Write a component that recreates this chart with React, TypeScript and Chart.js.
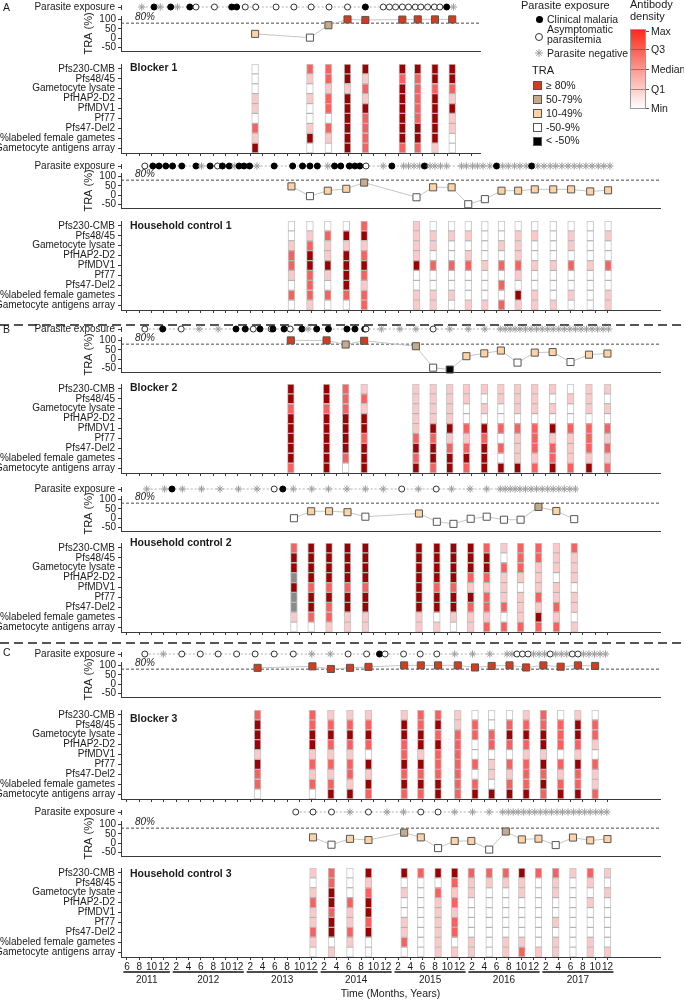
import React, { useEffect, useRef } from 'react';
import { Chart, registerables } from 'chart.js';
Chart.register(...registerables);

const FONT = "'Liberation Sans', Arial, Helvetica, sans-serif";
Chart.defaults.font.family = FONT;
Chart.defaults.font.size = 10;
Chart.defaults.color = '#1a1a1a';

// ---------------- data (time = month index, 1 = Jan 2011) ----------------
const antigens = ['Pfs230-CMB', 'Pfs48/45', 'Gametocyte lysate', 'PfHAP2-D2', 'PfMDV1', 'Pf77', 'Pfs47-Del2', '%labeled female gametes', 'Gametocyte antigens array'];
const years = ['2011', '2012', '2013', '2014', '2015', '2016', '2017'];
const traTicks = [-50, 0, 50, 100];
// exposure: C = clinical malaria, A = asymptomatic parasitemia, N = parasite negative

const b1ExpoMonth = [8.4, 10.4, 11.4, 13.1, 14.2, 16.2, 17.2, 20.2, 23.0, 23.8, 25.2, 26.9, 30.2, 33.1, 35.9, 38.8, 41.8, 44.7, 47.6, 48.6, 49.6, 50.7, 51.7, 52.8, 53.7, 54.8, 55.9, 56.8, 57.9, 59.0];
const b1ExpoStatus = ['N', 'C', 'N', 'C', 'N', 'C', 'A', 'A', 'C', 'C', 'A', 'A', 'A', 'A', 'A', 'A', 'A', 'C', 'A', 'A', 'A', 'A', 'A', 'A', 'A', 'A', 'A', 'A', 'C', 'N'];
const b1Month = [26.8, 35.7, 38.7, 41.8, 44.7, 50.7, 53.2, 56.0, 58.8];
const b1Tra = [23, 3, 69, 100, 97, 99, 100, 100, 100];
const b1Heat = [
  [0, 0, 0, 1, 1, 0, 2, 1, 3],
  [2, 1, 0, 1, 0, 0, 1, 3, 0],
  [2, 2, 1, 2, 2, 0, 2, 1, 0],
  [3, 3, 1, 3, 3, 3, 3, 3, 3],
  [3, 1, 2, 1, 3, 2, 2, 2, 2],
  [3, 2, 3, 3, 3, 3, 3, 3, 2],
  [3, 2, 2, 2, 2, 2, 3, 3, 2],
  [3, 3, 2, 3, 3, 3, 3, 3, 1],
  [3, 3, 2, 1, 3, 1, 1, 0, 0],
];

const h1ExpoMonth = [8.9, 10.2, 11.2, 12.3, 13.4, 14.9, 17.2, 18.1, 19.5, 20.7, 21.5, 22.6, 23.5, 24.2, 25.0, 25.9, 27.1, 29.9, 32.9, 34.5, 35.7, 36.9, 38.6, 39.7, 40.7, 42.1, 43.0, 43.8, 44.8, 47.6, 49.0, 50.9, 51.7, 52.6, 53.5, 54.3, 55.2, 56.0, 56.9, 57.9, 60.3, 61.1, 62.1, 62.9, 63.8, 64.9, 66.0, 67.0, 67.9, 68.9, 69.8, 70.8, 71.7, 72.7, 73.7, 74.7, 75.6, 76.6, 77.6, 78.6, 79.5, 80.5, 81.5, 82.5, 83.4, 84.4];
const h1ExpoStatus = ['A', 'C', 'C', 'C', 'C', 'C', 'C', 'N', 'C', 'A', 'C', 'C', 'N', 'C', 'C', 'C', 'N', 'C', 'C', 'C', 'C', 'C', 'N', 'C', 'C', 'C', 'C', 'C', 'A', 'N', 'C', 'N', 'N', 'N', 'N', 'C', 'N', 'N', 'N', 'N', 'N', 'N', 'N', 'N', 'N', 'N', 'C', 'N', 'N', 'N', 'N', 'N', 'C', 'N', 'N', 'N', 'N', 'N', 'N', 'N', 'N', 'N', 'N', 'N', 'N', 'N'];
const h1Month = [32.7, 35.7, 38.6, 41.6, 44.5, 53.0, 55.7, 58.7, 61.4, 64.1, 66.8, 69.5, 72.2, 75.2, 78.1, 81.2, 84.1];
const h1Tra = [47, -5, 24, 34, 67, -11, 42, 42, -48, -21, 24, 24, 31, 31, 31, 20, 26];
const h1Heat = [
  [0, 0, 1, 2, 2, 1, 0, 2, 0],
  [0, 1, 2, 3, 3, 2, 2, 2, 1],
  [0, 2, 1, 1, 3, 1, 0, 2, 0],
  [0, 3, 1, 3, 3, 3, 3, 2, 0],
  [2, 3, 1, 2, 3, 2, 1, 2, 2],
  [1, 1, 1, 1, 3, 0, 0, 1, 1],
  [0, 1, 1, 0, 2, 0, 0, 1, 1],
  [0, 1, 0, 0, 2, 0, 0, 1, 0],
  [0, 1, 0, 1, 2, 0, 0, 0, 1],
  [0, 0, 0, 0, 1, 0, 0, 0, 1],
  [0, 0, 1, 0, 2, 0, 2, 0, 2],
  [0, 1, 1, 1, 2, 1, 0, 3, 1],
  [0, 1, 0, 0, 1, 0, 0, 1, 1],
  [0, 0, 0, 0, 1, 0, 0, 0, 1],
  [0, 1, 1, 0, 2, 0, 0, 1, 0],
  [0, 0, 0, 0, 1, 0, 0, 0, 0],
  [0, 1, 0, 0, 2, 0, 0, 1, 1],
];

const b2ExpoMonth = [8.9, 11.8, 14.8, 17.7, 20.8, 23.7, 25.2, 26.5, 27.6, 29.4, 29.7, 31.5, 32.5, 34.4, 35.4, 36.8, 38.7, 41.7, 43.0, 44.6, 44.8, 47.3, 50.3, 52.9, 55.7, 58.4, 61.4, 64.1, 66.6, 67.4, 68.2, 69.0, 69.8, 70.7, 71.6, 72.5, 73.4, 74.3, 75.2, 76.1, 77.0, 77.9, 78.8, 79.7, 80.6, 81.5, 82.4, 83.3, 84.2];
const b2ExpoStatus = ['A', 'C', 'A', 'N', 'N', 'C', 'C', 'A', 'C', 'A', 'C', 'C', 'A', 'C', 'N', 'C', 'C', 'C', 'C', 'C', 'A', 'N', 'N', 'N', 'A', 'N', 'N', 'N', 'N', 'N', 'N', 'N', 'N', 'N', 'N', 'N', 'N', 'N', 'N', 'N', 'N', 'N', 'N', 'N', 'N', 'N', 'N', 'N', 'N'];
const b2Month = [32.6, 38.4, 41.5, 44.5, 52.9, 55.7, 58.4, 61.1, 64.0, 66.7, 69.4, 72.2, 75.1, 78.0, 81.0, 84.0];
const b2Tra = [100, 100, 78, 98, 69, -45, -55, 16, 31, 46, -18, 35, 38, -15, 24, 30];
const b2Heat = [
  [3, 3, 2, 3, 3, 3, 3, 3, 2],
  [3, 3, 2, 3, 3, 3, 3, 3, 3],
  [2, 2, 2, 3, 3, 3, 3, 2, 0],
  [1, 2, 1, 3, 3, 2, 3, 3, 3],
  [1, 1, 1, 1, 1, 2, 3, 2, 3],
  [1, 1, 1, 1, 3, 2, 3, 3, 2],
  [1, 1, 1, 1, 3, 1, 2, 3, 3],
  [1, 1, 0, 0, 2, 1, 2, 3, 2],
  [1, 0, 1, 0, 3, 2, 3, 3, 3],
  [1, 1, 0, 0, 2, 0, 2, 0, 3],
  [1, 1, 1, 0, 2, 1, 1, 1, 3],
  [1, 1, 1, 0, 2, 2, 2, 1, 2],
  [1, 0, 1, 0, 3, 1, 2, 2, 3],
  [0, 1, 0, 0, 2, 1, 1, 1, 2],
  [1, 1, 1, 0, 2, 2, 2, 1, 3],
  [1, 0, 1, 0, 2, 1, 2, 1, 2],
];

const h2ExpoMonth = [9.2, 12.1, 13.3, 15.0, 18.1, 21.1, 24.1, 27.1, 29.9, 31.3, 33.0, 36.0, 38.7, 41.7, 44.7, 47.6, 50.6, 53.3, 56.2, 58.7, 61.7, 64.4, 66.6, 67.4, 68.2, 69.0, 69.8, 70.7, 71.6, 72.5, 73.4, 74.3, 75.2, 76.1, 77.0, 77.9, 78.8];
const h2ExpoStatus = ['N', 'N', 'C', 'N', 'N', 'N', 'N', 'N', 'A', 'C', 'N', 'N', 'N', 'N', 'N', 'N', 'A', 'N', 'A', 'N', 'N', 'N', 'N', 'N', 'N', 'N', 'N', 'N', 'N', 'N', 'N', 'N', 'N', 'N', 'N', 'N', 'N'];
const h2Month = [33.1, 35.9, 38.8, 41.8, 44.7, 53.4, 56.3, 59.0, 61.8, 64.4, 67.2, 69.9, 72.8, 75.7, 78.6];
const h2Tra = [0, 37, 37, 32, 8, 25, -19, -30, -3, 8, -8, -8, 60, 38, -5];
const h2Heat = [
  [2, 3, 3, -1, 3, -1, -1, 1, 0],
  [3, 3, 3, 3, 2, 3, 3, 2, 0],
  [3, 3, 3, 3, 2, 3, 2, 2, 1],
  [3, 3, 3, 3, 2, 3, 3, 1, 1],
  [3, 3, 3, 3, 2, 3, 3, 1, 1],
  [3, 3, 3, 3, 3, 3, 3, 1, 1],
  [3, 3, 3, 3, 2, 3, 3, 0, 1],
  [3, 3, 3, 3, 2, 3, 3, 1, 0],
  [3, 3, 3, 2, 1, 3, 2, 1, 1],
  [2, 3, 3, 2, 1, 2, 2, 1, 2],
  [1, 0, 2, 1, 1, 1, 2, 0, 2],
  [2, 2, 2, 1, 0, 1, 1, 1, 2],
  [2, 2, 1, 1, 1, 2, 1, 3, 2],
  [1, 1, 1, 0, 1, 1, 2, 1, 2],
  [2, 1, 1, 1, 0, 1, 1, 0, 1],
];

const b3ExpoMonth = [8.9, 11.9, 14.9, 17.9, 20.8, 23.8, 26.8, 29.9, 33.0, 36.0, 39.0, 41.9, 44.9, 47.0, 47.9, 50.9, 53.6, 56.3, 59.2, 62.1, 64.9, 67.7, 68.5, 69.3, 70.2, 71.1, 72.0, 72.9, 73.8, 74.7, 75.6, 76.5, 77.4, 78.3, 79.2, 80.1, 81.0, 81.9, 82.8, 83.7];
const b3ExpoStatus = ['A', 'N', 'A', 'A', 'A', 'A', 'A', 'A', 'A', 'N', 'N', 'A', 'A', 'C', 'A', 'A', 'A', 'A', 'N', 'N', 'N', 'N', 'N', 'A', 'A', 'A', 'N', 'N', 'N', 'A', 'N', 'N', 'N', 'A', 'A', 'N', 'N', 'N', 'N', 'N'];
const b3Month = [27.2, 36.1, 39.1, 42.2, 45.2, 51.0, 53.7, 56.5, 59.7, 62.5, 65.2, 68.1, 70.8, 73.6, 76.4, 79.2, 82.0];
const b3Tra = [87, 95, 81, 87, 92, 100, 100, 100, 100, 89, 97, 100, 89, 100, 93, 100, 97];
const b3Heat = [
  [2, 3, 3, 3, 1, 3, 2, 2, 0],
  [2, 2, 3, 3, 1, 2, 1, 2, 0],
  [1, 2, 3, 2, 1, 2, 1, 2, 3],
  [1, 2, 3, 2, 1, 2, 2, 1, 3],
  [1, 2, 3, 2, 0, 3, 1, 3, 2],
  [1, 3, 3, 2, 2, 3, 2, 3, 2],
  [2, 2, 3, 3, 1, 3, 2, 3, 2],
  [2, 3, 2, 3, 2, 2, 2, 3, 3],
  [1, 1, 2, 2, 2, 2, 2, 2, 2],
  [0, 2, 2, 0, 0, 2, 0, 2, 3],
  [0, 0, 2, 2, 0, 1, 1, 0, 3],
  [0, 2, 3, 2, 0, 2, 1, 2, 3],
  [1, 2, 3, 2, 1, 2, 2, 2, 3],
  [2, 2, 3, 3, 1, 3, 2, 3, 2],
  [0, 2, 2, 2, 0, 2, 1, 2, 3],
  [1, 3, 3, 2, 1, 3, 2, 2, 3],
  [0, 2, 2, 1, 0, 2, 1, 1, 2],
];

const h3ExpoMonth = [33.4, 36.2, 39.2, 42.2, 45.2, 48.2, 50.9, 53.7, 56.5, 59.2, 62.1, 64.8, 67.0, 67.9, 68.7, 69.5, 70.4, 71.3, 72.2, 73.1, 74.0, 74.9, 75.8, 76.7, 77.6, 78.5, 79.4, 80.3, 81.2, 82.1, 83.0, 83.9];
const h3ExpoStatus = ['A', 'A', 'A', 'N', 'A', 'N', 'N', 'A', 'A', 'N', 'N', 'N', 'N', 'N', 'N', 'N', 'N', 'N', 'N', 'N', 'N', 'N', 'N', 'N', 'N', 'N', 'N', 'N', 'N', 'N', 'N', 'N'];
const h3Month = [36.2, 39.2, 42.2, 45.2, 51.0, 53.7, 56.5, 59.2, 61.9, 64.8, 67.5, 70.1, 72.8, 75.6, 78.4, 81.2, 84.0];
const h3Tra = [31, -8, 23, 17, 56, 31, -26, 12, 12, -34, 62, 20, 24, -10, 30, 15, 22];
const h3Heat = [
  [1, 0, 1, 2, 1, 1, 2, 1, 0],
  [2, 2, 3, 3, 2, 3, 3, 0, 1],
  [0, 0, 0, 2, 1, 1, 2, 1, 0],
  [3, 1, 2, 3, 3, 2, 3, 0, 0],
  [3, 0, 1, 0, 0, 1, 1, 2, 0],
  [2, 0, 0, 0, 0, 0, 0, 0, 0],
  [3, 0, 2, 1, 1, 1, 1, 1, 1],
  [3, 2, 1, 2, 1, 2, 2, 0, 1],
  [2, 1, 1, 0, 0, 0, 0, 1, 1],
  [2, 1, 0, 0, 0, 0, 0, 0, 0],
  [2, 1, 0, 0, 0, 0, 0, 1, 1],
  [3, 1, 1, 0, 0, 0, 0, 1, 2],
  [2, 0, 0, 0, 0, 0, 0, 0, 1],
  [2, 1, 1, 0, 0, 1, 0, 1, 1],
  [1, 0, 0, 0, 0, 0, 0, 0, 0],
  [2, 1, 0, 1, 0, 0, 0, 1, 1],
  [1, 0, 1, 0, 0, 0, 0, 0, 1],
];

// ---------------- layout ----------------
const W = 684;
const AXIS_LEFT = 121;
const T_LEFT = 5.03;
const PX_PER_MONTH = 6.16;
const tAt = (px: number) => T_LEFT + (px - AXIS_LEFT) / PX_PER_MONTH;
const TRA_MIN = -68;
const TRA_MAX = 118;
const TRA_K = 0.212;
const TRA_H = 39;
const HEAT_H = 89;
const HALF = 0.55;
const RIGHT_NARROW = 480;
const RIGHT_FULL = 660;

const PANELS = [
  { key: 'b1', right: RIGHT_NARROW, expoY: 7, traZero: 40.7, heatBottom: 153, title: 'Blocker 1', titleY: 67.7, expoMonth: b1ExpoMonth, expoStatus: b1ExpoStatus, month: b1Month, tra: b1Tra, heat: b1Heat },
  { key: 'h1', right: RIGHT_FULL, expoY: 165.7, traZero: 198.3, heatBottom: 310, title: 'Household control 1', titleY: 225.7, expoMonth: h1ExpoMonth, expoStatus: h1ExpoStatus, month: h1Month, tra: h1Tra, heat: h1Heat },
  { key: 'b2', right: RIGHT_FULL, expoY: 329.3, traZero: 362.3, heatBottom: 473, title: 'Blocker 2', titleY: 388.3, expoMonth: b2ExpoMonth, expoStatus: b2ExpoStatus, month: b2Month, tra: b2Tra, heat: b2Heat },
  { key: 'h2', right: RIGHT_FULL, expoY: 489.3, traZero: 521, heatBottom: 631.5, title: 'Household control 2', titleY: 543.3, expoMonth: h2ExpoMonth, expoStatus: h2ExpoStatus, month: h2Month, tra: h2Tra, heat: h2Heat },
  { key: 'b3', right: RIGHT_FULL, expoY: 654, traZero: 687.3, heatBottom: 799, title: 'Blocker 3', titleY: 719.3, expoMonth: b3ExpoMonth, expoStatus: b3ExpoStatus, month: b3Month, tra: b3Tra, heat: b3Heat },
  { key: 'h3', right: RIGHT_FULL, expoY: 812.3, traZero: 846, heatBottom: 957, title: 'Household control 3', titleY: 874, expoMonth: h3ExpoMonth, expoStatus: h3ExpoStatus, month: h3Month, tra: h3Tra, heat: h3Heat, bottom: true },
];

const AXIS_COLOR = '#3a3a3a';
const HEAT_COLORS = ['#ffffff', '#fcc9c9', '#f76160', '#9a0303'];
const NA_COLOR = '#8a8a8a';
const heatColor = (lv: number) => (lv < 0 ? NA_COLOR : HEAT_COLORS[lv]);
const traColor = (v: number) => (v >= 80 ? '#d43d1c' : v >= 50 ? '#c6aa8c' : v >= 10 ? '#fdd3a5' : v >= -50 ? '#ffffff' : '#000000');
const monthLabel = (t: number) => String(((Math.round(t) - 1) % 12) + 1);

const monthTicks: number[] = [];
for (let t = 6; t <= 84; t += 2) monthTicks.push(t);

const baseOptions = (right: number, pad: any) => ({
  responsive: false,
  animation: false,
  devicePixelRatio: 1,
  events: [],
  layout: { padding: { left: pad.left ?? 0, right: W - right, top: pad.top ?? 0, bottom: pad.bottom ?? 0 } },
  plugins: { legend: { display: false }, tooltip: { enabled: false }, title: { display: false } },
});

function exposureConfig(p: any) {
  const st = p.expoStatus as string[];
  return {
    type: 'scatter',
    data: {
      datasets: [{
        data: p.expoMonth.map((t: number) => ({ x: t, y: 0.5 })),
        showLine: true,
        borderColor: '#b0b0b0',
        borderWidth: 1,
        borderDash: [2, 2],
        pointStyle: st.map((s) => (s === 'N' ? 'star' : 'circle')),
        pointBackgroundColor: st.map((s) => (s === 'C' ? '#000000' : s === 'A' ? '#ffffff' : 'rgba(0,0,0,0)')),
        pointBorderColor: st.map((s) => (s === 'C' ? '#000000' : s === 'A' ? '#333333' : '#9c9c9c')),
        pointRadius: st.map((s) => (s === 'N' ? 3.6 : 3)),
        pointBorderWidth: 1,
        clip: false,
      }],
    },
    options: {
      ...baseOptions(p.right, { top: 2, bottom: 2 }),
      scales: {
        x: { type: 'linear', display: false, min: T_LEFT, max: tAt(p.right) },
        y: {
          type: 'linear', min: 0, max: 1,
          afterBuildTicks: (s: any) => { s.ticks = [{ value: 0.5 }]; },
          ticks: { callback: () => 'Parasite exposure', padding: 3, autoSkip: false, font: { size: 10 } },
          grid: { display: true, drawOnChartArea: false, drawTicks: true, tickLength: 3, color: AXIS_COLOR },
          border: { display: true, color: AXIS_COLOR, width: 1 },
          afterFit: (s: any) => { s.width = AXIS_LEFT; s.paddingTop = 0; s.paddingBottom = 0; },
        },
      },
    },
  };
}

const eightyPlugin = {
  id: 'eighty',
  beforeDatasetsDraw(chart: any) {
    const { ctx, chartArea, scales } = chart;
    const y = scales.y.getPixelForValue(80);
    ctx.save();
    ctx.strokeStyle = '#4a4a4a';
    ctx.lineWidth = 1;
    ctx.setLineDash([3, 2]);
    ctx.beginPath();
    ctx.moveTo(chartArea.left, y);
    ctx.lineTo(chartArea.right, y);
    ctx.stroke();
    ctx.setLineDash([]);
    ctx.fillStyle = '#222';
    ctx.font = `italic 10px ${FONT}`;
    ctx.textBaseline = 'bottom';
    ctx.fillText('80%', chartArea.left + 14, y - 1);
    ctx.restore();
  },
};

function traConfig(p: any) {
  return {
    type: 'scatter',
    data: {
      datasets: [{
        data: p.month.map((t: number, i: number) => ({ x: t, y: p.tra[i] })),
        showLine: true,
        borderColor: '#c6c6c6',
        borderWidth: 1,
        pointStyle: 'rect',
        pointRadius: 5,
        pointBorderColor: '#555555',
        pointBorderWidth: 1,
        pointBackgroundColor: p.tra.map(traColor),
        clip: false,
      }],
    },
    options: {
      ...baseOptions(p.right, { left: 82, top: 6, bottom: 2 }),
      scales: {
        x: {
          type: 'linear', min: T_LEFT, max: tAt(p.right),
          ticks: { display: false }, grid: { display: false },
          border: { display: true, color: AXIS_COLOR, width: 1 },
          afterFit: (s: any) => { s.height = 0; s.paddingLeft = 0; s.paddingRight = 0; },
        },
        y: {
          type: 'linear', min: TRA_MIN, max: TRA_MAX,
          afterBuildTicks: (s: any) => { s.ticks = traTicks.map((v) => ({ value: v })); },
          ticks: { padding: 2, autoSkip: false, font: { size: 10 } },
          grid: { display: true, drawOnChartArea: false, drawTicks: true, tickLength: 3, color: AXIS_COLOR },
          border: { display: true, color: AXIS_COLOR, width: 1 },
          title: { display: true, text: 'TRA (%)', font: { size: 11 }, padding: 0, color: '#1a1a1a' },
          afterFit: (s: any) => { s.width = AXIS_LEFT - 82; s.paddingTop = 0; s.paddingBottom = 0; },
        },
      },
    },
    plugins: [eightyPlugin],
  };
}

const yearPlugin = {
  id: 'years',
  afterDraw(chart: any) {
    const xs = chart.scales.x;
    const ctx = chart.ctx;
    const base = chart.chartArea.bottom;
    ctx.save();
    years.forEach((yr, i) => {
      const first = i === 0 ? 6 : 12 * i + 2;
      const last = 12 * i + 12;
      const x1 = xs.getPixelForValue(first) - 3.5;
      const x2 = xs.getPixelForValue(last) + 6;
      ctx.strokeStyle = '#111';
      ctx.lineWidth = 1.5;
      ctx.beginPath();
      ctx.moveTo(x1, base + 15);
      ctx.lineTo(x2, base + 15);
      ctx.stroke();
      ctx.fillStyle = '#1a1a1a';
      ctx.font = `10px ${FONT}`;
      ctx.textAlign = 'center';
      ctx.textBaseline = 'middle';
      ctx.fillText(yr, (x1 + x2) / 2, base + 23.5);
    });
    ctx.restore();
  },
};

function heatConfig(p: any) {
  const data: any[] = [];
  const colors: string[] = [];
  p.month.forEach((t: number, ci: number) => {
    p.heat[ci].forEach((lv: number, ri: number) => {
      data.push({ y: antigens[ri], x: [t - HALF, t + HALF] });
      colors.push(heatColor(lv));
    });
  });
  const max = tAt(p.right);
  const bottom = !!p.bottom;
  return {
    type: 'bar',
    data: {
      labels: antigens,
      datasets: [{
        data,
        backgroundColor: colors,
        borderColor: 'rgba(120,120,120,0.42)',
        borderWidth: 1,
        borderSkipped: false,
        barPercentage: 1,
        categoryPercentage: 1,
      }],
    },
    options: {
      ...baseOptions(p.right, { top: 4, bottom: 0 }),
      indexAxis: 'y',
      scales: {
        y: {
          type: 'category', offset: true,
          ticks: { padding: 3, autoSkip: false, font: { size: 10 } },
          grid: { display: true, drawOnChartArea: false, drawTicks: true, tickLength: 3, offset: false, color: AXIS_COLOR },
          border: { display: true, color: AXIS_COLOR, width: 1 },
          afterFit: (s: any) => { s.width = AXIS_LEFT; s.paddingTop = 0; s.paddingBottom = 0; },
        },
        x: {
          type: 'linear', min: T_LEFT, max,
          afterBuildTicks: (s: any) => { s.ticks = monthTicks.filter((v) => v <= max).map((v) => ({ value: v })); },
          ticks: { display: bottom, autoSkip: false, maxRotation: 0, minRotation: 0, padding: 1, font: { size: 10 }, callback: (v: number) => monthLabel(v) },
          grid: { display: true, drawOnChartArea: false, drawTicks: true, tickLength: 3, color: AXIS_COLOR },
          border: { display: true, color: AXIS_COLOR, width: 1 },
          title: { display: bottom, text: 'Time (Months, Years)', font: { size: 10.5 }, padding: { top: 0, bottom: 0 }, color: '#1a1a1a' },
          afterFit: (s: any) => { s.height = bottom ? 1000 - p.heatBottom : 6; s.paddingLeft = 0; s.paddingRight = 0; },
        },
      },
    },
    plugins: bottom ? [yearPlugin] : [],
  };
}

function ChartCanvas({ top, height, build }: { top: number; height: number; build: () => any }) {
  const ref = useRef<HTMLCanvasElement>(null);
  useEffect(() => {
    const chart = new Chart(ref.current as HTMLCanvasElement, build());
    return () => chart.destroy();
  }, []);
  return <canvas ref={ref} width={W} height={height} style={{ position: 'absolute', left: 0, top, width: W, height, display: 'block' }} />;
}

function Panel({ p }: { p: any }) {
  const expoTop = Math.round(p.expoY) - 7;
  const traTop = Math.round(p.traZero - TRA_MAX * TRA_K) - 6;
  const heatTop = Math.round(p.heatBottom) - HEAT_H - 4;
  const heatHeight = 4 + HEAT_H + (p.bottom ? 1000 - Math.round(p.heatBottom) : 6);
  return (
    <>
      <ChartCanvas top={expoTop} height={14} build={() => exposureConfig(p)} />
      <ChartCanvas top={traTop} height={6 + TRA_H + 2} build={() => traConfig(p)} />
      <ChartCanvas top={heatTop} height={heatHeight} build={() => heatConfig(p)} />
      <div style={{ position: 'absolute', left: 130, top: p.titleY - 7, fontSize: 10.5, fontWeight: 'bold', lineHeight: '13px', whiteSpace: 'nowrap' }}>{p.title}</div>
    </>
  );
}

function Star({ cx, cy, r }: { cx: number; cy: number; r: number }) {
  const d = r * 0.7071;
  return (
    <svg style={{ position: 'absolute', left: cx - r - 1, top: cy - r - 1 }} width={2 * r + 2} height={2 * r + 2}>
      <g stroke="#9c9c9c" strokeWidth="1" transform={`translate(${r + 1},${r + 1})`}>
        <line x1={-r} y1={0} x2={r} y2={0} />
        <line x1={0} y1={-r} x2={0} y2={r} />
        <line x1={-d} y1={-d} x2={d} y2={d} />
        <line x1={-d} y1={d} x2={d} y2={-d} />
      </g>
    </svg>
  );
}

const legendTra = [
  { label: '≥ 80%', color: '#d43d1c', y: 85 },
  { label: '50-79%', color: '#c6aa8c', y: 99.3 },
  { label: '10-49%', color: '#fdd3a5', y: 113.3 },
  { label: '-50-9%', color: '#ffffff', y: 127.3 },
  { label: '< -50%', color: '#000000', y: 140.7 },
];
const legendDensity = [
  { label: 'Max', y: 31 },
  { label: 'Q3', y: 49.3 },
  { label: 'Median', y: 69.3 },
  { label: 'Q1', y: 89.3 },
  { label: 'Min', y: 107.5 },
];

function Legend() {
  const t: React.CSSProperties = { position: 'absolute', fontSize: 10.5, lineHeight: '12px', whiteSpace: 'nowrap' };
  return (
    <>
      <div style={{ ...t, left: 521, top: -1, fontSize: 11 }}>Parasite exposure</div>
      <div style={{ position: 'absolute', left: 535.5, top: 15.5, width: 7, height: 7, borderRadius: '50%', background: '#000' }} />
      <div style={{ ...t, left: 547, top: 13 }}>Clinical malaria</div>
      <div style={{ position: 'absolute', left: 534.5, top: 32.5, width: 6.5, height: 6.5, borderRadius: '50%', border: '1px solid #333', background: '#fff' }} />
      <div style={{ ...t, left: 547, top: 25, lineHeight: '9.5px' }}>Asymptomatic<br />parasitemia</div>
      <Star cx={538.5} cy={53} r={4} />
      <div style={{ ...t, left: 547, top: 47 }}>Parasite negative</div>
      <div style={{ ...t, left: 532, top: 64, fontSize: 11 }}>TRA</div>
      {legendTra.map((e) => (
        <React.Fragment key={e.label}>
          <div style={{ position: 'absolute', left: 533, top: e.y - 4, width: 7, height: 7, background: e.color, border: '1px solid #555' }} />
          <div style={{ ...t, left: 546, top: e.y - 6.5 }}>{e.label}</div>
        </React.Fragment>
      ))}
      <div style={{ ...t, left: 630, top: -1, fontSize: 11, lineHeight: '11.5px' }}>Antibody<br />density</div>
      <div style={{ position: 'absolute', left: 630, top: 29, width: 14, height: 78, border: '1px solid #9a9a9a', background: 'linear-gradient(to bottom, #ff2a1a 0%, #fb6a5e 30%, #fca39b 55%, #fdd2ce 78%, #ffffff 100%)' }} />
      {legendDensity.map((e, i) => (
        <React.Fragment key={e.label}>
          {i > 0 && i < legendDensity.length - 1 && (
            <div style={{ position: 'absolute', left: 631, top: e.y, width: 14, height: 0, borderTop: '1px solid rgba(120,60,60,0.55)' }} />
          )}
          <div style={{ position: 'absolute', left: 646, top: e.y, width: 3, height: 0, borderTop: '1px solid #555' }} />
          <div style={{ ...t, left: 651, top: e.y - 6 }}>{e.label}</div>
        </React.Fragment>
      ))}
    </>
  );
}

function Separators() {
  return (
    <svg style={{ position: 'absolute', left: 0, top: 0 }} width={W} height={1000}>
      <line x1={0} y1={325} x2={W} y2={325} stroke="#555" strokeWidth={1.8} strokeDasharray="9 5" />
      <line x1={0} y1={643} x2={W} y2={643} stroke="#555" strokeWidth={1.8} strokeDasharray="9 5" />
    </svg>
  );
}

export default function App() {
  return (
    <div style={{ position: 'absolute', left: 0, top: 0, width: W, height: 1000, background: '#fff', overflow: 'hidden', fontFamily: FONT, color: '#1a1a1a' }}>
      <Separators />
      {PANELS.map((p) => <Panel key={p.key} p={p} />)}
      <div style={{ position: 'absolute', left: 3, top: 1, fontSize: 10.5 }}>A</div>
      <div style={{ position: 'absolute', left: 3, top: 323, fontSize: 10.5 }}>B</div>
      <div style={{ position: 'absolute', left: 3, top: 646, fontSize: 10.5 }}>C</div>
      <Legend />
    </div>
  );
}
